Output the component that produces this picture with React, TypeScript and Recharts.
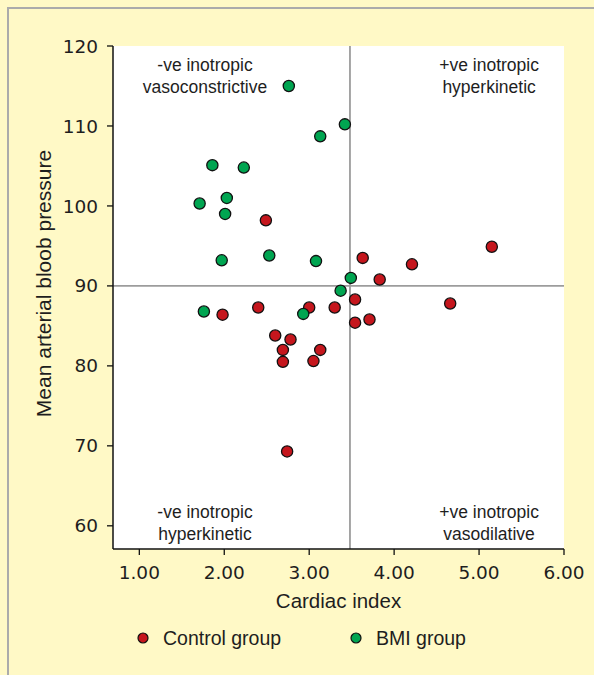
import React from 'react';
import {
  ScatterChart,
  Scatter,
  XAxis,
  YAxis,
  CartesianGrid,
  ReferenceLine,
  ReferenceDot,
  Legend,
  Label,
} from 'recharts';

const controlX = [2.49, 3.63, 4.21, 5.15, 3.83, 3.54, 3.3, 4.66, 3.71, 3.54, 3.0, 2.4, 1.98, 2.6, 2.78, 2.69, 3.13, 2.69, 3.05, 2.74];
const controlY = [98.2, 93.5, 92.7, 94.9, 90.8, 88.3, 87.3, 87.8, 85.8, 85.4, 87.3, 87.3, 86.4, 83.8, 83.3, 82.0, 82.0, 80.5, 80.6, 69.3];
const bmiX = [2.76, 3.42, 3.13, 1.86, 2.23, 2.03, 1.71, 2.01, 1.97, 2.53, 3.08, 3.49, 3.37, 2.93, 1.76];
const bmiY = [115.0, 110.2, 108.7, 105.1, 104.8, 101.0, 100.3, 99.0, 93.2, 93.8, 93.1, 91.0, 89.4, 86.5, 86.8];

const seriesNames = ['Control group', 'BMI group'];
const xTicks = [1, 2, 3, 4, 5, 6];
const yTicks = [60, 70, 80, 90, 100, 110, 120];
const xDivider = 3.48;
const yDivider = 90;

const quadrantText = [
  ['-ve inotropic', 'vasoconstrictive'],
  ['+ve inotropic', 'hyperkinetic'],
  ['-ve inotropic', 'hyperkinetic'],
  ['+ve inotropic', 'vasodilative'],
];
const quadrantAnchorX = [1.773, 5.118, 1.773, 5.118];
const quadrantAnchorY = [116.34, 116.34, 60.46, 60.46];

const controlData = controlX.map((x, i) => ({ x, y: controlY[i] }));
const bmiData = bmiX.map((x, i) => ({ x, y: bmiY[i] }));

const FONT = '"Liberation Sans", Arial, sans-serif';
const TICK_FONT = '"DejaVu Sans", sans-serif';
const RED = '#C5161D';
const GREEN = '#00A551';
const TEXT = '#1e1e1e';

const makeDot = (color: string) => (props: any) => (
  <circle cx={props.cx} cy={props.cy} r={5.6} fill={color} stroke="#111" strokeWidth={1.3} />
);

const legendLeft = [136, 349];

const renderLegend = (props: any) => {
  const payload = [...(props.payload || [])].sort(
    (a: any, b: any) => seriesNames.indexOf(a.value) - seriesNames.indexOf(b.value)
  );
  return (
    <div style={{ position: 'relative', width: 594, height: 30, fontFamily: FONT, fontSize: 19.5, color: TEXT }}>
      {payload.map((p: any, i: number) => (
        <div
          key={i}
          style={{ position: 'absolute', left: legendLeft[i], top: 0, height: 30, display: 'flex', alignItems: 'center' }}
        >
          <svg width={14} height={14}>
            <circle cx={7} cy={7} r={5} fill={p.color} stroke="#111" strokeWidth={1.2} />
          </svg>
          <span style={{ marginLeft: 13, lineHeight: '30px' }}>{p.value}</span>
        </div>
      ))}
    </div>
  );
};

const quadrantLabel = (lines: string[]) => (props: any) => {
  const vb = props.viewBox || {};
  const cx = (vb.x ?? 0) + (vb.width ?? 0) / 2;
  const cy = (vb.y ?? 0) + (vb.height ?? 0) / 2;
  return (
    <text x={cx} y={cy} textAnchor="middle" fontFamily={FONT} fontSize={17.5} fill={TEXT}>
      <tspan x={cx} dy={-4}>{lines[0]}</tspan>
      <tspan x={cx} dy={22}>{lines[1]}</tspan>
    </text>
  );
};

export default function App() {
  return (
    <div style={{ position: 'absolute', left: 0, top: 0, width: 594, height: 675, background: '#FFF9C6', overflow: 'hidden' }}>
      <div
        style={{
          position: 'absolute',
          left: 7,
          top: 7,
          width: 600,
          height: 700,
          borderLeft: '2px solid #ABABAB',
          borderTop: '2px solid #ABABAB',
        }}
      />
      <div style={{ position: 'absolute', left: 0, top: 0 }}>
        <ScatterChart width={594} height={675} margin={{ top: 46, right: 30, left: 53, bottom: 96 }}>
          <CartesianGrid fill="#ffffff" horizontal={false} vertical={false} />
          <XAxis
            type="number"
            dataKey="x"
            domain={[0.69, 6]}
            ticks={xTicks}
            interval={0}
            allowDataOverflow
            tickFormatter={(v: number) => v.toFixed(2)}
            axisLine={{ stroke: '#111', strokeWidth: 1.5 }}
            tickLine={{ stroke: '#111', strokeWidth: 1.3 }}
            tickSize={6}
            tickMargin={11}
            height={30}
            tick={{ fontSize: 18.5, fill: TEXT, fontFamily: TICK_FONT }}
          >
            <Label value="Cardiac index" position="bottom" offset={14} style={{ fontSize: 20.5, fill: TEXT, fontFamily: FONT }} />
          </XAxis>
          <YAxis
            type="number"
            dataKey="y"
            domain={[57.1, 120]}
            ticks={yTicks}
            interval={0}
            allowDataOverflow
            axisLine={{ stroke: '#111', strokeWidth: 1.5 }}
            tickLine={{ stroke: '#111', strokeWidth: 1.3 }}
            tickSize={6}
            tickMargin={9}
            width={60}
            tick={{ fontSize: 18.5, fill: TEXT, fontFamily: TICK_FONT }}
          >
            <Label
              value="Mean arterial bloob pressure"
              angle={-90}
              position="center"
              dx={-39}
              dy={-14}
              style={{ fontSize: 21, fill: TEXT, fontFamily: FONT, textAnchor: 'middle' }}
            />
          </YAxis>
          <ReferenceLine x={xDivider} stroke="#9C9C9C" strokeWidth={1.8} />
          <ReferenceLine y={yDivider} stroke="#9C9C9C" strokeWidth={1.8} />
          {quadrantText.map((lines, i) => (
            <ReferenceDot
              key={i}
              x={quadrantAnchorX[i]}
              y={quadrantAnchorY[i]}
              r={0}
              fill="none"
              stroke="none"
              label={quadrantLabel(lines)}
            />
          ))}
          <Scatter
            name={seriesNames[0]}
            data={controlData}
            fill={RED}
            shape={makeDot(RED)}
            isAnimationActive={false}
          />
          <Scatter
            name={seriesNames[1]}
            data={bmiData}
            fill={GREEN}
            shape={makeDot(GREEN)}
            isAnimationActive={false}
          />
          <Legend
            layout="horizontal"
            verticalAlign="middle"
            align="center"
            content={renderLegend}
            wrapperStyle={{ position: 'absolute', top: 623, left: 0, width: 594, height: 30 }}
          />
        </ScatterChart>
      </div>
    </div>
  );
}
